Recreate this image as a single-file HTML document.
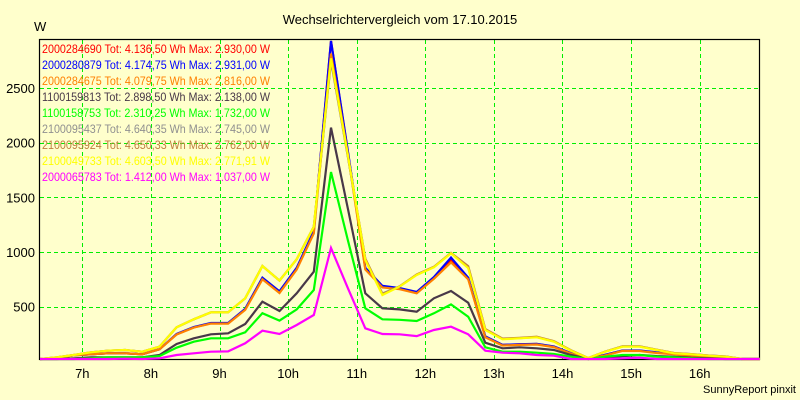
<!DOCTYPE html>
<html><head><meta charset="utf-8">
<style>
html,body{margin:0;padding:0;background:#ffffcc;}
svg{display:block;font-family:"Liberation Sans",Arial,sans-serif;}
</style></head>
<body>
<svg id="chart" width="800" height="400" viewBox="0 0 800 400" xmlns="http://www.w3.org/2000/svg">
<rect x="0" y="0" width="800" height="400" fill="#ffffcc"/>
<text x="400" y="24" text-anchor="middle" font-size="13" fill="#000">Wechselrichtervergleich vom 17.10.2015</text>
<text x="34" y="31" font-size="13" fill="#000">W</text>
<text x="796" y="393" text-anchor="end" font-size="11" fill="#000">SunnyReport pinxit</text>
<g id="grid"></g>
<g id="axes"></g>
<g id="series"></g>
<g id="legend"></g>
</svg>
<script>
const startHour = 6.375;
const stepHour = 0.25;
const xTicks = [7,8,9,10,11,12,13,14,15,16];
const xTickLabels = ["7h","8h","9h","10h","11h","12h","13h","14h","15h","16h"];
const yTicks = [500,1000,1500,2000,2500];
const seriesNames = ["2000284690","2000280879","2000284675","1100159813","1100158753","2100095437","2100095924","2100049733","2000065783"];
const seriesLegend = [
"2000284690 Tot: 4.136,50 Wh Max: 2.930,00 W",
"2000280879 Tot: 4.174,75 Wh Max: 2.931,00 W",
"2000284675 Tot: 4.079,75 Wh Max: 2.816,00 W",
"1100159813 Tot: 2.898,50 Wh Max: 2.138,00 W",
"1100158753 Tot: 2.310,25 Wh Max: 1.732,00 W",
"2100095437 Tot: 4.640,35 Wh Max: 2.745,00 W",
"2100095924 Tot: 4.650,33 Wh Max: 2.762,00 W",
"2100049733 Tot: 4.603,50 Wh Max: 2.771,91 W",
"2000065783 Tot: 1.412,00 Wh Max: 1.037,00 W"];
const seriesColors = ["#ff0000","#0000ff","#ff8000","#483848","#00ff00","#909090","#c08040","#ffff00","#ff00ff"];
const red     = [0,27,55,64,73,73,64,110,247,311,348,348,475,760,637,850,1186,2930,1900,850,683,668,631,765,925,759,225,149,155,158,134,73,10,58,97,97,79,67,48,42,33,18,0];
const blue    = [0,27,55,64,73,73,64,110,250,314,350,350,480,765,640,855,1190,2931,1910,855,690,670,635,770,950,765,228,150,156,160,136,75,10,60,99,99,81,68,50,43,34,18,0];
const orange  = [0,27,55,64,73,73,64,110,245,308,345,345,470,750,625,840,1170,2816,1880,840,675,660,622,755,905,750,220,145,150,154,130,70,10,55,95,94,76,64,46,40,31,16,0];
const dark    = [0,18,27,36,36,36,36,58,158,210,247,256,341,545,460,622,820,2138,1387,622,485,475,454,576,643,536,170,119,128,119,103,58,10,33,48,58,48,42,33,27,21,15,0];
const green   = [0,0,18,27,36,36,36,48,124,179,210,210,265,440,372,475,652,1732,1100,485,384,380,369,439,521,408,128,88,88,79,67,42,5,42,58,58,42,36,27,21,18,0,0];
const gray    = [0,36,58,82,97,103,88,134,311,384,448,448,576,872,738,933,1231,2745,1860,935,620,685,792,862,990,860,290,205,212,222,182,99,30,90,136,136,105,75,66,53,44,20,0];
const brown   = [0,36,58,82,97,103,88,134,311,384,448,448,576,872,738,933,1231,2762,1865,940,615,685,795,865,992,870,295,208,215,225,185,100,30,90,136,136,106,76,66,53,44,20,0];
const yellow  = [0,36,58,82,97,103,88,134,311,384,448,448,576,872,738,933,1231,2772,1872,927,607,683,790,860,988,853,286,201,210,220,179,97,30,88,134,134,103,73,64,51,42,18,0];
const magenta = [0,0,18,18,21,24,18,27,58,73,88,91,165,280,250,332,424,1037,664,302,250,247,231,286,317,247,97,79,73,58,51,21,0,18,27,33,21,18,18,18,15,0,0];
const seriesValues = [red,blue,orange,dark,green,gray,brown,yellow,magenta];

const NS = "http://www.w3.org/2000/svg";
const plotL = 40, plotR = 759, plotT = 40, plotB = 359;
function xScale(h){ return 82.3 + (h - 7) * 68.6; }
function yScale(v){ return 361.3 - v * 0.1093; }
function mk(tag, attrs){ const e = document.createElementNS(NS, tag); for (const k in attrs) e.setAttribute(k, attrs[k]); return e; }

const grid = document.getElementById('grid');
xTicks.forEach((h,i)=>{
  const x = Math.round(xScale(h)) + 0.5;
  const l = mk('line',{x1:x,y1:plotT,x2:x,y2:plotB,stroke:'#00ee00','stroke-width':1,'stroke-dasharray':'4,3'});
  
  
  grid.appendChild(l);
  const t = mk('text',{x:xScale(h),y:378,'text-anchor':'middle','font-size':13,fill:'#000'});
  t.textContent = xTickLabels[i];
  
  
  grid.appendChild(t);
});
yTicks.forEach(v=>{
  const y = Math.round(yScale(v)) + 0.5;
  const l = mk('line',{x1:plotL,y1:y,x2:plotR,y2:y,stroke:'#00ee00','stroke-width':1,'stroke-dasharray':'4,3'});
  
  
  grid.appendChild(l);
  const t = mk('text',{x:35,y:yScale(v)+5,'text-anchor':'end','font-size':13,fill:'#000'});
  t.textContent = String(v);
  
  
  grid.appendChild(t);
});
const axes = document.getElementById('axes');
const frame = mk('rect',{x:plotL-0.5,y:plotT-0.5,width:plotR-plotL+1,height:plotB-plotT+1,fill:'none',stroke:'#000','stroke-width':1.2});


axes.appendChild(frame);

const defs = mk('defs',{});
const cp = mk('clipPath',{id:'plotclip'});
cp.appendChild(mk('rect',{x:plotL,y:plotT,width:plotR-plotL+3,height:plotB-plotT+2}));
defs.appendChild(cp);
document.getElementById('chart').insertBefore(defs, document.getElementById('chart').firstChild);

const sg = document.getElementById('series');
sg.setAttribute('clip-path','url(#plotclip)');
seriesValues.forEach((vals,si)=>{
  const pts = vals.map((v,i)=> xScale(startHour + i*stepHour).toFixed(1) + ',' + Math.min(yScale(v), plotB).toFixed(1)).join(' ');
  const pl = mk('polyline',{points:pts,fill:'none',stroke:seriesColors[si],'stroke-width':2.2,'stroke-linejoin':'miter'});
  
  
  sg.appendChild(pl);
});

const lg = document.getElementById('legend');
seriesLegend.forEach((txt,i)=>{
  const t = mk('text',{x:42,y:53+i*16,'font-size':12,fill:seriesColors[i],textLength:228,lengthAdjust:'spacingAndGlyphs'});
  t.textContent = txt;
  
  
  lg.appendChild(t);
});
</script>
</body></html>
